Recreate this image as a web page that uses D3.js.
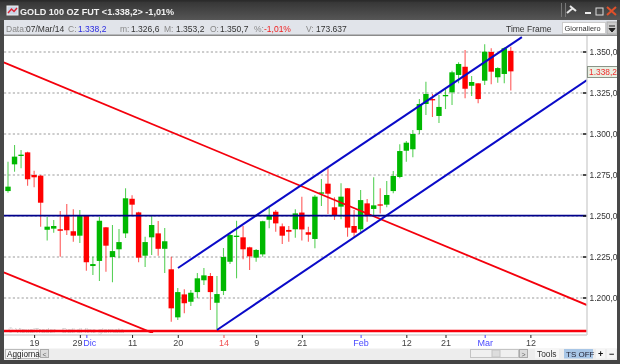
<!DOCTYPE html>
<html><head><meta charset="utf-8">
<style>html,body{margin:0;padding:0;background:#fff}svg{display:block;filter:blur(0.4px)}text{font-family:"Liberation Sans",sans-serif}</style>
<script src="https://cdnjs.cloudflare.com/ajax/libs/d3/7.8.5/d3.min.js"></script>
</head><body><svg id="c" width="620" height="364"></svg>
<script>
const opens=[1265.2,1281.5,1286.6,1288.8,1275,1274.6,1241.6,1242.3,1241.9,1250.2,1240.7,1238,1250.2,1219.5,1222.6,1243.1,1225,1229.7,1239.4,1260.5,1252.2,1225.8,1237,1239.4,1230,1217.5,1188.2,1202.2,1197.7,1203.6,1210.8,1213.4,1197.1,1204.3,1222.1,1237.4,1237,1230.9,1224.6,1226.6,1247.7,1252.6,1243.7,1241.5,1241.9,1252.1,1240.1,1236,1263.6,1269.7,1255.3,1255.7,1266.9,1243.9,1241.9,1257.7,1254.3,1257.1,1256.9,1265.2,1273.8,1289.8,1290.7,1302.4,1318.3,1321.3,1311,1323.2,1325.4,1336,1341,1329.4,1330.9,1332.5,1350,1334.6,1336.6,1350.7];
const highs=[1283.1,1293.3,1290.2,1289.2,1277.6,1275,1249.6,1247.6,1253,1257.3,1254.1,1253.6,1250.2,1225.2,1249.6,1243.3,1244.5,1242.1,1266.9,1262.6,1252.6,1237.4,1250.2,1246.9,1242.7,1225.2,1206.1,1205.3,1204.9,1215.2,1218.3,1215.2,1213.4,1230.5,1239.6,1247.1,1243.9,1231.3,1229.9,1247.1,1255.3,1253.6,1245.5,1243.9,1254.1,1261.8,1243.5,1262.8,1272.6,1279.1,1261.4,1269.9,1267.1,1253.6,1265.8,1260.4,1273.6,1266.9,1271.3,1277.4,1293.7,1295.7,1302.4,1321.3,1331.9,1324.4,1323.8,1328,1338.6,1343.7,1351.2,1335.4,1330.9,1354.7,1352.3,1340.7,1352.9,1353.2];
const lows=[1264.2,1277,1279.1,1268.5,1267.5,1243.5,1235.1,1239.8,1225.2,1238.4,1234.3,1233.5,1216.6,1214,1210.4,1216,1209.6,1224.2,1236.6,1250.6,1221.8,1218.9,1226.2,1225.8,1215.2,1185.5,1186.6,1190.7,1195.1,1199.8,1207.9,1192.7,1181.1,1201.8,1220.7,1212,1223.6,1217.1,1222.1,1225.2,1242.5,1240.4,1232.9,1234.3,1236.8,1235.1,1234.3,1230.3,1256.1,1251.2,1247.6,1248,1237.4,1237.2,1240.4,1246.5,1250.6,1251.6,1255.3,1263.8,1273,1283.1,1285.8,1300,1311.6,1310.4,1306.7,1315.2,1317.7,1330.9,1321.8,1323.2,1318.7,1329.9,1330.3,1331.3,1330.9,1326.6];
const closes=[1267.9,1286.2,1287.4,1272.4,1273.6,1258.1,1243.5,1243.9,1241,1241.3,1238,1250,1221.8,1220.7,1247.1,1231.9,1228.6,1234.1,1260.8,1256.9,1224.6,1234.1,1244.5,1230,1234.6,1193.7,1203.6,1196.8,1203.2,1212,1213.8,1203.6,1202.4,1225,1238.4,1238,1229.7,1225.4,1229.3,1246.8,1250.2,1245.5,1238,1240.4,1251.6,1241.8,1238.6,1261.8,1264.4,1263.6,1250.6,1261.8,1242.9,1239.8,1259.7,1250.6,1256.5,1256.7,1262.8,1274.4,1289.6,1294.7,1300,1318.3,1324.4,1320.7,1316.5,1323.8,1337.6,1342.7,1327.6,1331.7,1321.3,1350.2,1338,1340.2,1352.3,1338.2];
const priceTicks=[1200,1225,1250,1275,1300,1325,1350];
const priceLabels=["1.200,0","1.225,0","1.250,0","1.275,0","1.300,0","1.325,0","1.350,0"];
const dateTicks=[4,11,12,19,26,33,38,45,54,61,67,73,80];
const dateLabels=["19","29","Dic","11","20","14","9","21","Feb","12","21","Mar","12"];
const dateColors=["#444","#444","#4a4aff","#444","#444","#f05050","#444","#444","#4a4aff","#444","#444","#4a4aff","#444"];
const blueLines=[[26.03,1218.3,78.7,1359.1],[32,1180.5,88.67,1332.9]];
const navyLines=[[-0.77,1250.2,88.67,1250.2]];
const redLines=[[-0.77,1343.9,88.67,1195.7],[-0.77,1215.8,22.2,1178.6]];
const floorLines=[[-0.77,1179.9,88.67,1179.9]];
const infoParts=[["Data:",6,"#888"],["07/Mar/14",26,"#333"],["C:",68,"#888"],["1.338,2",78,"#2a2ae0"],["m:",120,"#888"],["1.326,6",131,"#333"],["M:",164,"#888"],["1.353,2",176,"#333"],["O:",210,"#888"],["1.350,7",220,"#333"],["%:",254,"#888"],["-1,01%",264,"#f02020"],["V:",306,"#888"],["173.637",316,"#333"]];

const svg=d3.select("#c");
const rect=(x,y,w,h,f,s)=>svg.append("rect").attr("x",x).attr("y",y).attr("width",w).attr("height",h).attr("fill",f).attr("stroke",s||"none");
const label=(t,x,y,size,col,weight,anchor)=>svg.append("text").text(t).attr("x",x).attr("y",y).attr("font-size",size).attr("fill",col).attr("font-weight",weight||"normal").attr("text-anchor",anchor||"start");

const defs=svg.append("defs");
const tg=defs.append("linearGradient").attr("id","tb").attr("x1",0).attr("x2",0).attr("y1",0).attr("y2",1);
tg.append("stop").attr("offset",0).attr("stop-color","#333");
tg.append("stop").attr("offset",1).attr("stop-color","#565656");
defs.append("clipPath").attr("id","plot").append("rect").attr("x",4).attr("y",36).attr("width",583).attr("height",297);

rect(0,0,620,364,"#fff");
const x=d3.scaleLinear().domain([0,77]).range([8,510.8]);
const y=d3.scaleLinear().domain([1350,1200]).range([52,298]);

label("© VisualTrader - Dati di fine giornata",8,333,7.2,"#c4c4c4");

const gy=svg.append("g").attr("transform","translate(587,0)").call(d3.axisRight(y).tickValues(priceTicks).tickSize(0).tickPadding(2.5).tickFormat((d,i)=>priceLabels[i]));
gy.select(".domain").remove();
gy.selectAll("text").attr("font-size",8.4).attr("fill","#333").attr("font-family","Liberation Sans");

const plot=svg.append("g").attr("clip-path","url(#plot)");
plot.selectAll("line.grid").data(priceTicks).join("line").attr("x1",4).attr("x2",583).attr("y1",d=>y(d)).attr("y2",d=>y(d)).attr("stroke","#bdbdbd").attr("stroke-width",1.4).attr("stroke-dasharray","2.2 2.2");
svg.selectAll("rect.ptick").data(priceTicks).join("rect").attr("x",583).attr("y",d=>y(d)-0.75).attr("width",4).attr("height",1.5).attr("fill","#111");

const candles=d3.range(opens.length);
const col=i=>closes[i]>=opens[i]?"#00b800":"#ff0000";
plot.selectAll("line.wick").data(candles).join("line").attr("x1",i=>x(i)).attr("x2",i=>x(i)).attr("y1",i=>y(highs[i])).attr("y2",i=>y(lows[i])).attr("stroke",col).attr("stroke-opacity",0.65).attr("stroke-width",1.1);
plot.selectAll("rect.body").data(candles).join("rect").attr("x",i=>x(i)-2.7).attr("width",5.4).attr("y",i=>y(Math.max(opens[i],closes[i]))).attr("height",i=>Math.max(1.3,Math.abs(y(opens[i])-y(closes[i])))).attr("fill",col);

const trend=(arr,c,w)=>plot.selectAll(null).data(arr).join("line").attr("x1",d=>x(d[0])).attr("y1",d=>y(d[1])).attr("x2",d=>x(d[2])).attr("y2",d=>y(d[3])).attr("stroke",c).attr("stroke-width",w);
trend(redLines,"#f4000c",1.8);
trend(floorLines,"#f8000c",2.6);
trend(blueLines,"#0a0ac8",2);
trend(navyLines,"#00008c",1.8);

// axis frame
svg.append("line").attr("x1",587).attr("x2",587).attr("y1",36).attr("y2",335).attr("stroke","#d4d4d4").attr("stroke-width",1.5);
const gx=svg.append("g").attr("transform","translate(0,335)").call(d3.axisBottom(x).tickValues(dateTicks).tickSize(3).tickPadding(2).tickFormat((d,i)=>dateLabels[i]));
gx.select(".domain").attr("stroke","#d4d4d4").attr("d","M4,0H587").attr("stroke-width",1.5);
gx.selectAll(".tick line").attr("stroke",(d,i)=>dateColors[i]==="#444"?"#222":dateColors[i]);
gx.selectAll("text").attr("font-size",9).attr("font-family","Liberation Sans").attr("fill",(d,i)=>dateColors[i])
  .attr("dx",(d,i)=>dateLabels[i]==="29"?-2.8:dateLabels[i]==="Dic"?2.8:0);

// price tag
rect(587.5,66.5,30,11,"#e9efe2","#8a9488");
label("1.338,2",589,75,8.4,"#f03030");

// title bar
rect(0,0,620,20,"url(#tb)");
rect(0,0,620,1.5,"#2b2b2b");
rect(7,6,11,9,"#c9d6e6","#eee");
svg.append("path").attr("d","M8,13L11.5,9L14,11.5L17,8").attr("fill","none").attr("stroke","#d23").attr("stroke-width",1.4);
label("GOLD 100 OZ FUT <1.338,2> -1,01%",20,15,9.1,"#f2f2f2","bold");
rect(561,3,1,14,"#777");rect(565,3,1,14,"#777");
svg.append("path").attr("d","M567,13L573,8M570,6L576,11").attr("stroke","#e8e8e8").attr("stroke-width",2);
rect(585,12,6,2,"#eee");
rect(596,8,7,7,"none","#ddd");
svg.append("path").attr("d","M607,7L616,15M616,7L607,15").attr("stroke","#e0502a").attr("stroke-width",2);

// info bar
rect(0,20,620,15,"#e1e4ea");
rect(0,34.5,620,1.5,"#8b8b8b");
infoParts.forEach(p=>label(p[0],p[1],31.5,8.5,p[2]));
label("Time Frame",506,31.5,8.5,"#333");
rect(562.5,22.5,43,11,"#fff","#ccc");
label("Giornaliero",564.5,31,7.4,"#333");
rect(607,22,10,12,"#ccc","#aaa");
svg.append("path").attr("d","M609,26H615M609,28.5H615L612,32Z").attr("stroke","#222").attr("fill","#222");

// frame
rect(0,20,4,344,"#484848");
rect(617,20,3,344,"#484848");
rect(0,360,620,4,"#444");

// toolbar
rect(4,348.5,613,11.5,"#ededed");
rect(5.5,349.5,33,9,"#f8f8f8","#bbb");
label("Aggiorna",7,357,8.2,"#222");
rect(40.5,349.5,8,8,"#ddd","#aaa");
label("<",42.5,356.5,7,"#666");
rect(470.5,349.5,48,8,"#f0f0f0","#c4c4c4");
rect(492,350,8,7,"#ddd","#c4c4c4");
rect(519.5,349.5,8,8,"#ddd","#aaa");
label(">",521.5,356.5,7,"#666");
rect(535,349,24,9.5,"#f6f6f6");
label("Tools",537,357,8.4,"#333");
rect(564,349,29,9.5,"#a8c6e6");
label("TS OFF",566,357,8,"#223");
rect(596,349,9,9.5,"#f6f6f6");
label("+",598,357,9,"#111","bold");
rect(607,349,9,9.5,"#f6f6f6");
label("−",609,357,9,"#111","bold");
</script></body></html>
